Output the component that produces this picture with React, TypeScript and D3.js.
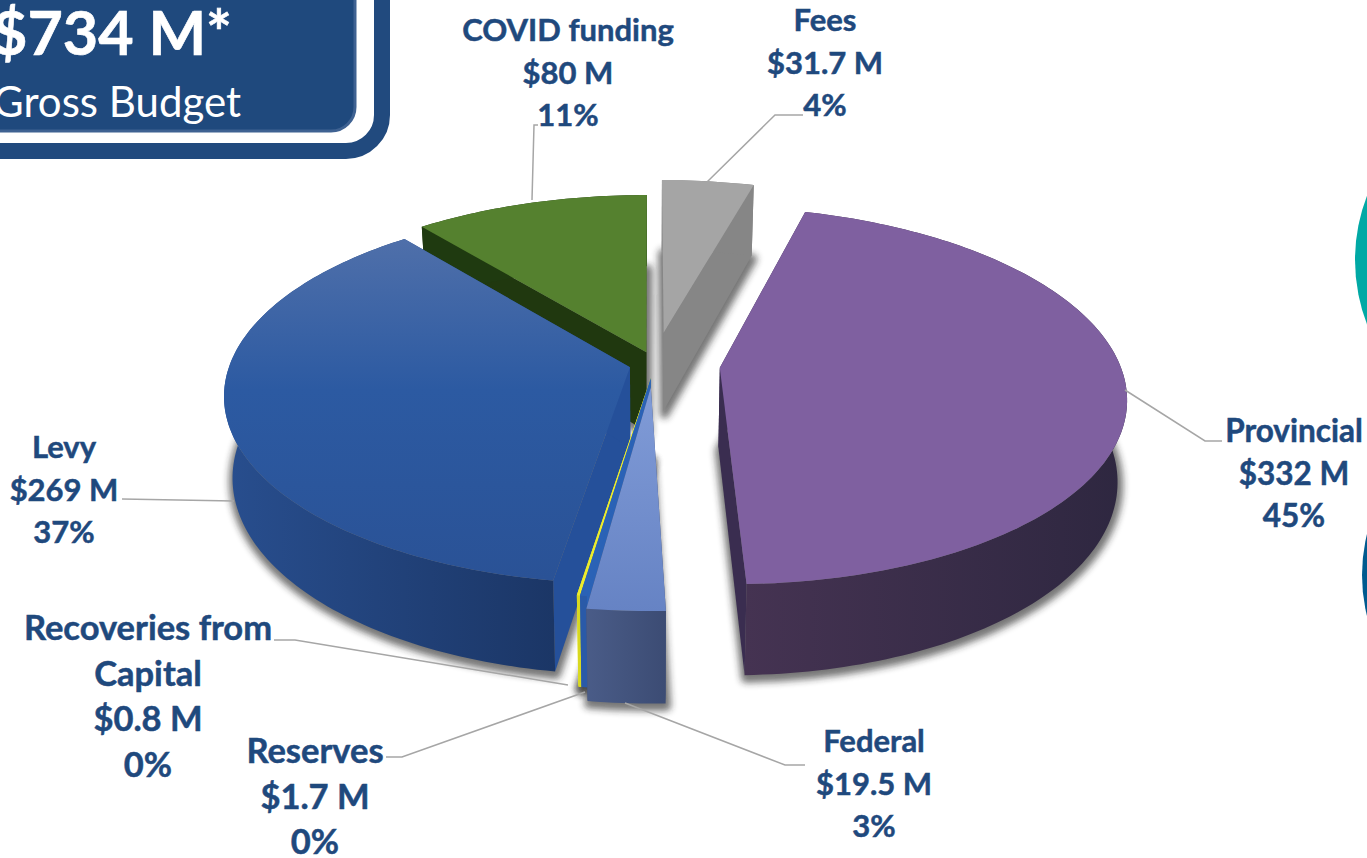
import React from "react";
import * as d3 from "d3";

// ---- data ----
const categories = ["Fees", "Provincial", "Federal", "Reserves", "Recoveries from Capital", "Levy", "COVID funding"];
const amounts = [31.7, 332, 19.5, 1.7, 0.8, 269, 80];
const amountLabels = ["$31.7 M", "$332 M", "$19.5 M", "$1.7 M", "$0.8 M", "$269 M", "$80 M"];
const percentLabels = ["4%", "45%", "3%", "0%", "0%", "37%", "11%"];
const totalLabel = "$734 M*";
const totalCaption = "Gross Budget";

// ---- layout (not data) ----
const CX = 650, CY = 364, RX = 400, AY = 183.5, PERSP = 0.147, DEPTH = 80, BOTTOM_SHRINK = 0.98;
// explosion of each slice on the plane of the pie, unit = pie radius
const explode: [number, number][] = [
  [0.035, -0.175], [0.174, 0.02], [0.002, 0.124], [0.002, 0.075], [0.002, 0.075], [-0.05, 0.018], [-0.009, -0.065],
];
const topFill = ["#a5a5a5", "#7f60a0", "url(#fedTop)", "#2a62b6", "#ecec2c", "url(#levyTop)", "#55812f"];
const wallFill = ["#868686", "url(#provWall)", "url(#fedWall)", "#2a5aa8", "#d8d820", "url(#levyWall)", "#1f3a10"];
const cutFill = ["#868686", "#3a2d50", "#3f4f78", "#2a62b6", "#ecec2c", "#25509a", "#20380f"];
const labelPos: { x: number; y: number }[] = [
  { x: 825, y: 31 }, { x: 1294, y: 442 }, { x: 874, y: 752 }, { x: 315, y: 763 }, { x: 148, y: 640 }, { x: 64, y: 458 }, { x: 568, y: 41 },
];
const labelLines = categories.map((c, i) =>
  c === "Recoveries from Capital"
    ? ["Recoveries from", "Capital", amountLabels[i], percentLabels[i]]
    : [c, amountLabels[i], percentLabels[i]]
);
const lineStep = [42.5, 42.5, 42.5, 45.5, 45.5, 42.5, 42.5];
const labelSize = [31, 31.5, 31, 34.5, 34.5, 31, 31];
const leaders: [number, number][][] = [
  [[707, 182], [775, 115], [803, 115]],
  [[1125, 390], [1205, 441], [1222, 441]],
  [[625, 703], [785, 765], [805, 765]],
  [[585, 692], [402, 757], [386, 757]],
  [[568, 685], [295, 640], [274, 640]],
  [[234, 501], [122, 499]],
  [[532, 200], [534, 125], [538, 125]],
];

const project = (X: number, Y: number): [number, number] => {
  const k = 1 / (1 - PERSP * Y);
  return [CX + X * RX * k, CY + Y * AY * k];
};
const projectLow = (X: number, Y: number): [number, number] => {
  const k = 1 / (1 - PERSP * Y);
  return [CX + X * RX * k * BOTTOM_SHRINK, CY + Y * AY * k + DEPTH * Math.pow(k, 0.8)];
};

const arcs = d3.pie<number>().sort(null).value((d) => d).startAngle(0).endAngle(2 * Math.PI)(amounts);
const line = d3.line();

function slicePaths(i: number) {
  const a = arcs[i];
  const [ex, ey] = explode[i];
  const steps = Math.max(2, Math.ceil((a.endAngle - a.startAngle) / 0.02));
  const angles = d3.range(steps + 1).map((s) => a.startAngle + ((a.endAngle - a.startAngle) * s) / steps);
  const rim = angles.map((t) => [ex + Math.sin(t), ey - Math.cos(t)] as [number, number]);
  const top = rim.map(([x, y]) => project(x, y));
  const low = rim.map(([x, y]) => projectLow(x, y));
  const tipT = project(ex, ey);
  const tipL = projectLow(ex, ey);
  return {
    top: line([tipT, ...top])! + "Z",
    bottom: line([tipL, ...low])! + "Z",
    wall: line([...top, ...low.slice().reverse()])! + "Z",
    cutA: line([tipT, top[0], low[0], tipL])! + "Z",
    cutB: line([tipT, top[top.length - 1], low[low.length - 1], tipL])! + "Z",
  };
}

const drawOrder = [0, 6, 5, 4, 3, 2, 1];
const LABEL_FONT = "Lato, 'Open Sans', sans-serif";
const NAVY = "#1f497d";

export default function App() {
  return (
    <svg width={1367} height={858} viewBox="0 0 1367 858" style={{ position: "absolute", left: 0, top: 0, background: "#fff" }}>
      <defs>
        <linearGradient id="levyTop" gradientUnits="userSpaceOnUse" x1="0" y1="235" x2="0" y2="580">
          <stop offset="0" stopColor="#5070aa" />
          <stop offset="0.45" stopColor="#2c5aa2" />
          <stop offset="1" stopColor="#2a5296" />
        </linearGradient>
        <linearGradient id="fedTop" gradientUnits="userSpaceOnUse" x1="0" y1="400" x2="0" y2="612">
          <stop offset="0" stopColor="#7f9ad6" />
          <stop offset="1" stopColor="#6683c4" />
        </linearGradient>
        <linearGradient id="levyWall" gradientUnits="userSpaceOnUse" x1="225" y1="0" x2="555" y2="0">
          <stop offset="0" stopColor="#284e8e" />
          <stop offset="1" stopColor="#1b3666" />
        </linearGradient>
        <linearGradient id="provWall" gradientUnits="userSpaceOnUse" x1="745" y1="0" x2="1125" y2="0">
          <stop offset="0" stopColor="#453352" />
          <stop offset="1" stopColor="#2e2740" />
        </linearGradient>
        <linearGradient id="fedWall" gradientUnits="userSpaceOnUse" x1="586" y1="0" x2="665" y2="0">
          <stop offset="0" stopColor="#4a5c88" />
          <stop offset="1" stopColor="#3c4c74" />
        </linearGradient>
        <filter id="shadowBlur" x="-20%" y="-20%" width="140%" height="140%">
          <feGaussianBlur stdDeviation="3.5" />
        </filter>
      </defs>

      {/* right-edge circles */}
      <circle cx={1355 + 178} cy={260} r={178} fill="#00a9a5" />
      <circle cx={1362 + 170} cy={575} r={170} fill="#005a8f" />

      {/* title box */}
      <rect x={-60} y={-60} width={442} height={211} rx={36} fill="#ffffff" stroke="#214a7e" strokeWidth={16} />
      <rect x={-40} y={-40} width={395} height={171} rx={24} fill="#1f497d" stroke="#3f6292" strokeWidth={3} />
      <text x={232} y={55} textAnchor="end" fill="#fff" stroke="#fff" strokeWidth={0.6} fontFamily={LABEL_FONT} fontWeight={700} fontSize={61}>{totalLabel}</text>
      <text x={241} y={117} textAnchor="end" fill="#fff" fontFamily={LABEL_FONT} fontSize={42}>{totalCaption}</text>

      {/* shadows cast by the base of each slice */}
      {drawOrder.map((i) => (
        <path key={i} d={slicePaths(i).bottom} transform="translate(1,3)" fill="#222" stroke="#222" strokeWidth={9} strokeLinejoin="round" opacity={0.62} filter="url(#shadowBlur)" />
      ))}

      {/* slices */}
      {drawOrder.map((i) => {
        const p = slicePaths(i);
        return (
          <g key={categories[i]}>
            <path d={p.cutA} fill={cutFill[i]} />
            <path d={p.cutB} fill={cutFill[i]} />
            <path d={p.wall} fill={wallFill[i]} />
            <path d={p.top} fill={topFill[i]} />
          </g>
        );
      })}

      {/* leader lines */}
      {leaders.map((pts, i) => (
        <path key={i} d={line(pts)!} fill="none" stroke="#a6a6a6" strokeWidth={1.5} />
      ))}

      {/* labels */}
      {labelLines.map((lines, i) => (
        <text key={i} textAnchor="middle" fill={NAVY} stroke={NAVY} strokeWidth={0.5} fontFamily={LABEL_FONT} fontWeight={700} fontSize={labelSize[i]}>
          {lines.map((l, j) => (
            <tspan key={j} x={labelPos[i].x} y={labelPos[i].y + j * lineStep[i]}>{l}</tspan>
          ))}
        </text>
      ))}
    </svg>
  );
}
